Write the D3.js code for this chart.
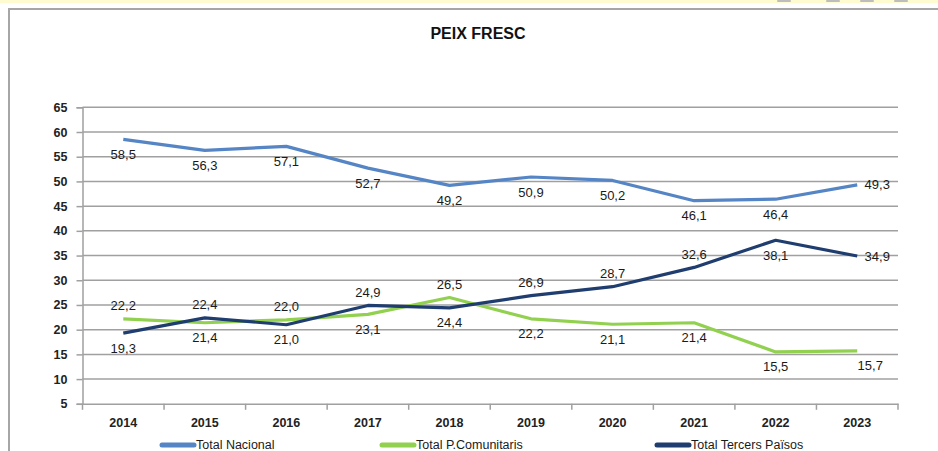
<!DOCTYPE html>
<html><head><meta charset="utf-8">
<script src="https://cdn.jsdelivr.net/npm/d3@7"></script>
<style>
html,body{margin:0;padding:0;background:#fff;}
svg{display:block;font-family:"Liberation Sans",Arial,sans-serif;}
</style></head>
<body><svg id="c" width="938" height="451"></svg>
<script>
const years = ["2014","2015","2016","2017","2018","2019","2020","2021","2022","2023"];
const totalNacional = [58.5,56.3,57.1,52.7,49.2,50.9,50.2,46.1,46.4,49.3];
const totalComunitaris = [22.2,21.4,22.0,23.1,26.5,22.2,21.1,21.4,15.5,15.7];
const totalTercers = [19.3,22.4,21.0,24.9,24.4,26.9,28.7,32.6,38.1,34.9];
const seriesNames = ["Total Nacional","Total P.Comunitaris","Total Tercers Països"];
const yTicks = [5,10,15,20,25,30,35,40,45,50,55,60,65];
// label placement: b=below, a=above, r=right, br=below-right
const nacPos = ["b","b","b","b","b","b","b","b","b","r"];
const comPos = ["a","b","a","b","a","b","b","b","b","br"];
const terPos = ["b","a","b","a","b","a","a","a","b","r"];

const svg = d3.select("#c");
// top strip and frame
svg.append("rect").attr("x",0).attr("y",0).attr("width",938).attr("height",3).attr("fill","#fffbd0");
svg.append("g").selectAll("rect").data([777,826,860,894]).join("rect")
  .attr("x",d=>d).attr("y",0).attr("width",14).attr("height",2).attr("rx",1).attr("fill","#bdbdbd");
svg.append("path").attr("d","M9,451 V9 H938").attr("fill","none").attr("stroke","#a6a6a6").attr("stroke-width",2);

svg.append("text").attr("x",478).attr("y",39).attr("text-anchor","middle")
  .attr("font-size",16).attr("font-weight","bold").attr("fill","#111").text("PEIX FRESC");

const m = {l:82.5, r:898, t:107.3, b:403.8};
const x = d3.scaleBand().domain(years).range([m.l,m.r]);
const y = d3.scaleLinear().domain([5,65]).range([m.b,m.t]);

// gridlines
svg.append("g").selectAll("line").data(yTicks.filter(d=>d>5)).join("line")
  .attr("x1",m.l).attr("x2",m.r).attr("y1",d=>y(d)).attr("y2",d=>y(d))
  .attr("stroke","#a0a0a0").attr("stroke-width",1.5);

// y axis
const ya = svg.append("g").attr("transform",`translate(${m.l},0)`)
  .call(d3.axisLeft(y).tickValues(yTicks).tickSize(6).tickPadding(9));
ya.select(".domain").attr("stroke","#a0a0a0").attr("stroke-width",1.5);
ya.selectAll(".tick line").attr("stroke","#a0a0a0").attr("stroke-width",1.5);
ya.selectAll("text").attr("font-size",12.5).attr("font-weight","bold").attr("fill","#222")
  .attr("font-family","Liberation Sans, Arial, sans-serif");

// x axis
const xa = svg.append("g").attr("transform",`translate(0,${m.b})`)
  .call(d3.axisBottom(x).tickSize(0).tickPadding(14));
xa.select(".domain").attr("stroke","#a0a0a0").attr("stroke-width",1.5);
xa.selectAll("text").attr("font-size",12.5).attr("font-weight","bold").attr("fill","#222")
  .attr("font-family","Liberation Sans, Arial, sans-serif");
// boundary ticks
svg.append("g").selectAll("line").data(years.concat(["end"])).join("line")
  .attr("x1",(d,i)=>m.l+i*x.bandwidth()).attr("x2",(d,i)=>m.l+i*x.bandwidth())
  .attr("y1",m.b).attr("y2",m.b+6).attr("stroke","#a0a0a0").attr("stroke-width",1.5);

const series = [
  {name:seriesNames[0], vals:totalNacional, pos:nacPos, color:"#5585c5"},
  {name:seriesNames[1], vals:totalComunitaris, pos:comPos, color:"#92d050"},
  {name:seriesNames[2], vals:totalTercers, pos:terPos, color:"#1f3d6e"}
];
const cx = d=>x(d)+x.bandwidth()/2;
const line = d3.line().x((v,i)=>cx(years[i])).y(v=>y(v));

series.forEach(s=>{
  svg.append("path").datum(s.vals).attr("d",line).attr("fill","none")
    .attr("stroke",s.color).attr("stroke-width",3.2).attr("stroke-linejoin","round");
});

const fmt = v=>v.toFixed(1).replace(".",",");
series.forEach(s=>{
  svg.append("g").selectAll("text").data(s.vals).join("text")
    .attr("x",(v,i)=>{const p=s.pos[i]; return cx(years[i]) + (p==="r"?20:p==="br"?13:0);})
    .attr("y",(v,i)=>{const p=s.pos[i]; return y(v) + (p==="b"?15:p==="a"?-13:p==="br"?15:0);})
    .attr("dy","0.35em").attr("text-anchor","middle")
    .attr("font-size",13).attr("fill","#1a1a1a").text(fmt);
});

// legend
const legX = [160,380,655];
const lg = svg.append("g").selectAll("g").data(series).join("g")
  .attr("transform",(d,i)=>`translate(${legX[i]},445)`);
lg.append("line").attr("x1",2).attr("x2",34).attr("y1",0).attr("y2",0)
  .attr("stroke",d=>d.color).attr("stroke-width",5).attr("stroke-linecap","round");
lg.append("text").attr("x",36).attr("y",0).attr("dy","0.35em")
  .attr("font-size",12.5).attr("fill","#1a1a1a").text(d=>d.name);
</script></body></html>
